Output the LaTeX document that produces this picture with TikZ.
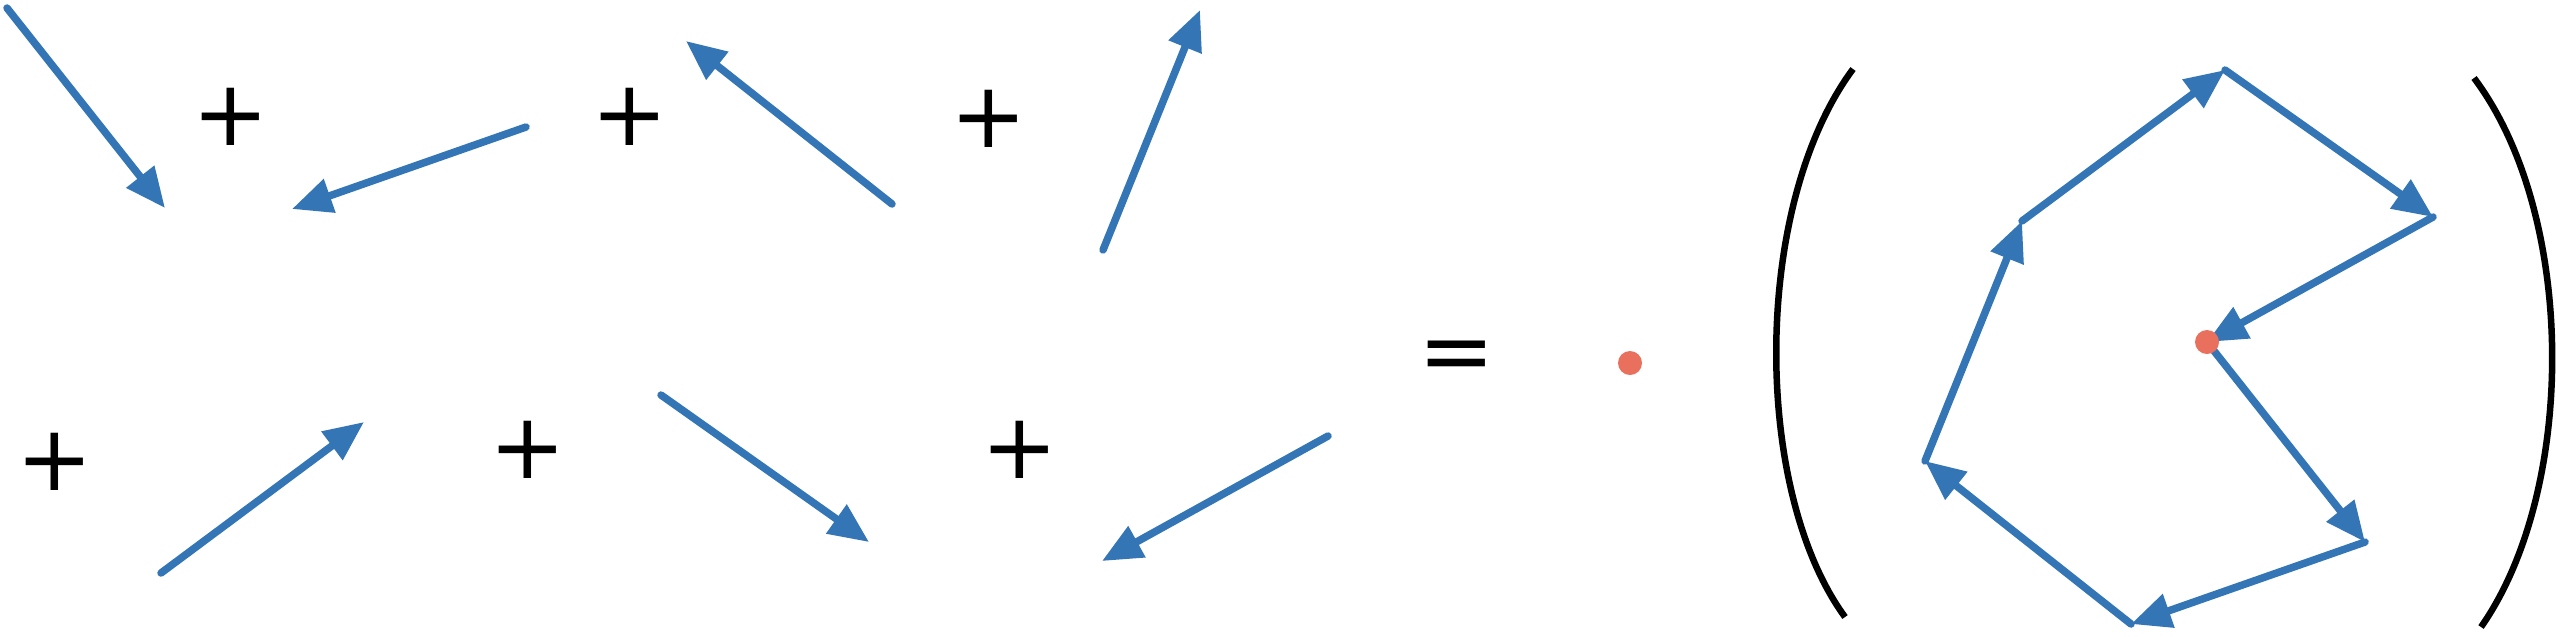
\documentclass[tikz,border=0pt]{standalone}
\usepackage{fontspec}
\setmainfont{DejaVu Sans}
\usepackage{tikz}
\usetikzlibrary{arrows.meta}
\definecolor{vecblue}{RGB}{51,117,181}
\definecolor{dotred}{RGB}{232,112,92}

\begin{document}
\begin{tikzpicture}[x=0.1mm,y=-0.1mm,
    vecarrow/.style={vecblue,line width=0.75mm,line cap=round,-{Triangle[length=4mm,width=3.4mm]}},
    sym/.style={inner sep=0pt,font=\fontsize{26}{30}\selectfont}]
    \useasboundingbox (0,0) rectangle (2556,636);
    % the seven summands
    \coordinate (a1s) at (7,8);      \coordinate (a1e) at (165,208);
    \coordinate (a2s) at (526,127);  \coordinate (a2e) at (292,209);
    \coordinate (a3s) at (892,204);  \coordinate (a3e) at (686,41);
    \coordinate (a4s) at (1103,250); \coordinate (a4e) at (1200,10);
    \coordinate (b1s) at (161,573);  \coordinate (b1e) at (364,422);
    \coordinate (b2s) at (661,395);  \coordinate (b2e) at (869,542);
    \coordinate (b3s) at (1328,436); \coordinate (b3e) at (1102,561);
    \draw [vecarrow] (a1s)--(a1e);
    \draw [vecarrow] (a2s)--(a2e);
    \draw [vecarrow] (a3s)--(a3e);
    \draw [vecarrow] (a4s)--(a4e);
    \draw [vecarrow] (b1s)--(b1e);
    \draw [vecarrow] (b2s)--(b2e);
    \draw [vecarrow] (b3s)--(b3e);
    \node [sym] (plus1) at (231,117) {+};
    \node [sym] (plus2) at (630,117) {+};
    \node [sym] (plus3) at (989,119) {+};
    \node [sym] (plus4) at (55,462) {+};
    \node [sym] (plus5) at (528,450) {+};
    \node [sym] (plus6) at (1020,450) {+};
    \node [sym] (equals) at (1457,362) {=};
    \node [circle,fill=dotred,inner sep=0pt,minimum size=2.4mm] (zero) at (1630,363) {};
    % brackets
    \draw [line width=0.65mm] (1853,69) .. controls (1752,205) and (1752,490) .. (1845,617);
    \draw [line width=0.65mm] (2474,78) .. controls (2577,215) and (2577,490) .. (2481,627);
    % head to tail
    \coordinate (v0) at (2207,342);
    \coordinate (v1) at (2365,542);
    \coordinate (v2) at (2131,624);
    \coordinate (v3) at (1925,461);
    \coordinate (v4) at (2022,221);
    \coordinate (v5) at (2225,70);
    \coordinate (v6) at (2433,217);
    \draw [vecarrow] (v0)--(v1);
    \draw [vecarrow] (v1)--(v2);
    \draw [vecarrow] (v2)--(v3);
    \draw [vecarrow] (v3)--(v4);
    \draw [vecarrow] (v4)--(v5);
    \draw [vecarrow] (v5)--(v6);
    \draw [vecarrow] (v6)--(v0);
    \node [circle,fill=dotred,inner sep=0pt,minimum size=2.4mm] (origin) at (v0) {};
\end{tikzpicture}
\end{document}
